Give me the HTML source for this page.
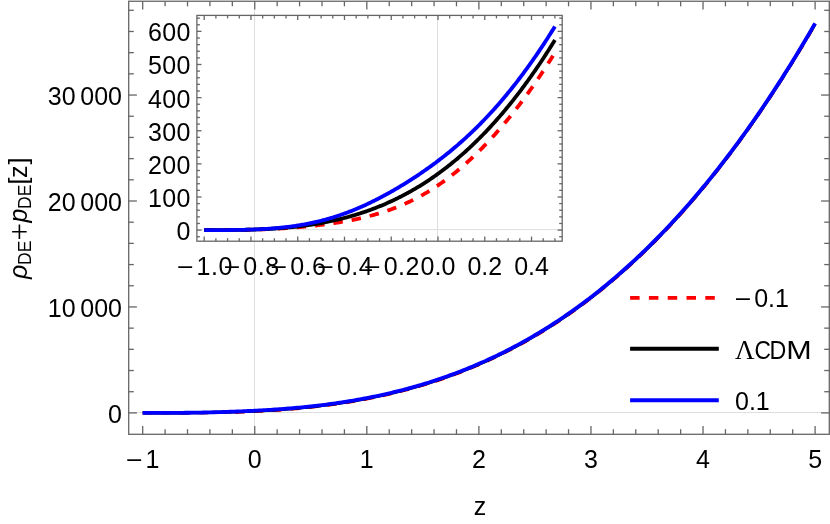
<!DOCTYPE html><html><head><meta charset="utf-8"><title>plot</title>
<style>html,body{margin:0;padding:0;background:#fff}svg{display:block;will-change:transform}text{font-family:"Liberation Sans",sans-serif;fill:#000}</style></head><body>
<svg width="830" height="524" viewBox="0 0 830 524">
<rect width="830" height="524" fill="#fff"/>
<g stroke="#dedede" stroke-width="1" fill="none">
<line x1="254.5" y1="1.25" x2="254.5" y2="434.30"/>
<line x1="128.70" y1="412.5" x2="829.30" y2="412.5"/>
<line x1="437.5" y1="15.40" x2="437.5" y2="241.20"/>
<line x1="196.90" y1="229.6" x2="562.20" y2="229.6"/>
</g>
<path d="M142.68,412.90 L144.92,412.90 L147.16,412.90 L149.40,412.90 L151.65,412.90 L153.89,412.90 L156.13,412.90 L158.37,412.90 L160.61,412.89 L162.85,412.89 L165.09,412.89 L167.34,412.88 L169.58,412.88 L171.82,412.87 L174.06,412.87 L176.30,412.86 L178.54,412.85 L180.78,412.84 L183.03,412.83 L185.27,412.82 L187.51,412.81 L189.75,412.80 L191.99,412.78 L194.23,412.77 L196.47,412.75 L198.72,412.73 L200.96,412.71 L203.20,412.69 L205.44,412.67 L207.68,412.65 L209.92,412.62 L212.16,412.59 L214.40,412.57 L216.65,412.53 L218.89,412.50 L221.13,412.46 L223.37,412.42 L225.61,412.38 L227.85,412.34 L230.09,412.29 L232.34,412.24 L234.58,412.18 L236.82,412.12 L239.06,412.05 L241.30,411.98 L243.54,411.91 L245.78,411.83 L248.03,411.75 L250.27,411.66 L252.51,411.57 L254.75,411.47 L256.99,411.36 L259.23,411.25 L261.47,411.14 L263.72,411.02 L265.96,410.89 L268.20,410.76 L270.44,410.63 L272.68,410.49 L274.92,410.34 L277.16,410.19 L279.41,410.03 L281.65,409.87 L283.89,409.70 L286.13,409.52 L288.37,409.35 L290.61,409.16 L292.85,408.97 L295.10,408.77 L297.34,408.57 L299.58,408.36 L301.82,408.15 L304.06,407.92 L306.30,407.70 L308.54,407.46 L310.78,407.22 L313.03,406.98 L315.27,406.72 L317.51,406.46 L319.75,406.20 L321.99,405.93 L324.23,405.64 L326.47,405.36 L328.72,405.06 L330.96,404.76 L333.20,404.45 L335.44,404.14 L337.68,403.81 L339.92,403.48 L342.16,403.14 L344.41,402.80 L346.65,402.44 L348.89,402.08 L351.13,401.71 L353.37,401.33 L355.61,400.95 L357.85,400.55 L360.10,400.15 L362.34,399.74 L364.58,399.32 L366.82,398.89 L369.06,398.46 L371.30,398.01 L373.54,397.56 L375.79,397.09 L378.03,396.62 L380.27,396.14 L382.51,395.65 L384.75,395.15 L386.99,394.64 L389.23,394.12 L391.48,393.60 L393.72,393.06 L395.96,392.51 L398.20,391.95 L400.44,391.39 L402.68,390.81 L404.92,390.22 L407.17,389.63 L409.41,389.02 L411.65,388.40 L413.89,387.78 L416.13,387.14 L418.37,386.49 L420.61,385.83 L422.86,385.16 L425.10,384.48 L427.34,383.79 L429.58,383.08 L431.82,382.37 L434.06,381.65 L436.30,380.91 L438.54,380.16 L440.79,379.40 L443.03,378.63 L445.27,377.85 L447.51,377.06 L449.75,376.25 L451.99,375.43 L454.23,374.60 L456.48,373.76 L458.72,372.91 L460.96,372.04 L463.20,371.17 L465.44,370.28 L467.68,369.37 L469.92,368.46 L472.17,367.53 L474.41,366.59 L476.65,365.64 L478.89,364.67 L481.13,363.69 L483.37,362.70 L485.61,361.69 L487.86,360.68 L490.10,359.64 L492.34,358.60 L494.58,357.54 L496.82,356.47 L499.06,355.38 L501.30,354.28 L503.55,353.17 L505.79,352.04 L508.03,350.90 L510.27,349.74 L512.51,348.57 L514.75,347.39 L516.99,346.19 L519.24,344.98 L521.48,343.75 L523.72,342.51 L525.96,341.25 L528.20,339.98 L530.44,338.70 L532.68,337.39 L534.92,336.08 L537.17,334.75 L539.41,333.40 L541.65,332.04 L543.89,330.66 L546.13,329.27 L548.37,327.86 L550.61,326.44 L552.86,325.00 L555.10,323.54 L557.34,322.07 L559.58,320.58 L561.82,319.08 L564.06,317.56 L566.30,316.02 L568.55,314.47 L570.79,312.90 L573.03,311.32 L575.27,309.71 L577.51,308.10 L579.75,306.46 L581.99,304.81 L584.24,303.14 L586.48,301.45 L588.72,299.75 L590.96,298.03 L593.20,296.29 L595.44,294.54 L597.68,292.76 L599.93,290.97 L602.17,289.17 L604.41,287.34 L606.65,285.50 L608.89,283.64 L611.13,281.76 L613.37,279.86 L615.62,277.94 L617.86,276.01 L620.10,274.06 L622.34,272.09 L624.58,270.10 L626.82,268.09 L629.06,266.06 L631.31,264.02 L633.55,261.96 L635.79,259.87 L638.03,257.77 L640.27,255.65 L642.51,253.51 L644.75,251.35 L647.00,249.17 L649.24,246.97 L651.48,244.76 L653.72,242.52 L655.96,240.26 L658.20,237.99 L660.44,235.69 L662.68,233.37 L664.93,231.04 L667.17,228.68 L669.41,226.30 L671.65,223.90 L673.89,221.49 L676.13,219.05 L678.37,216.59 L680.62,214.11 L682.86,211.61 L685.10,209.09 L687.34,206.55 L689.58,203.98 L691.82,201.40 L694.06,198.79 L696.31,196.17 L698.55,193.52 L700.79,190.85 L703.03,188.16 L705.27,185.45 L707.51,182.71 L709.75,179.96 L712.00,177.18 L714.24,174.38 L716.48,171.56 L718.72,168.71 L720.96,165.85 L723.20,162.96 L725.44,160.05 L727.69,157.11 L729.93,154.16 L732.17,151.18 L734.41,148.18 L736.65,145.15 L738.89,142.11 L741.13,139.04 L743.38,135.94 L745.62,132.83 L747.86,129.69 L750.10,126.52 L752.34,123.34 L754.58,120.13 L756.82,116.89 L759.06,113.64 L761.31,110.36 L763.55,107.05 L765.79,103.72 L768.03,100.37 L770.27,96.99 L772.51,93.59 L774.75,90.17 L777.00,86.72 L779.24,83.24 L781.48,79.74 L783.72,76.22 L785.96,72.67 L788.20,69.10 L790.44,65.50 L792.69,61.88 L794.93,58.23 L797.17,54.56 L799.41,50.86 L801.65,47.13 L803.89,43.38 L806.13,39.61 L808.38,35.81 L810.62,31.98 L812.86,28.13 L815.10,24.25" fill="none" stroke="#ff0000" stroke-width="3.2" stroke-dasharray="9.5 9"/>
<path d="M142.68,412.90 L144.92,412.90 L147.16,412.90 L149.40,412.90 L151.65,412.90 L153.89,412.90 L156.13,412.90 L158.37,412.90 L160.61,412.89 L162.85,412.89 L165.09,412.89 L167.34,412.88 L169.58,412.88 L171.82,412.87 L174.06,412.86 L176.30,412.85 L178.54,412.84 L180.78,412.83 L183.03,412.82 L185.27,412.80 L187.51,412.78 L189.75,412.77 L191.99,412.75 L194.23,412.72 L196.47,412.70 L198.72,412.67 L200.96,412.65 L203.20,412.62 L205.44,412.58 L207.68,412.55 L209.92,412.51 L212.16,412.47 L214.40,412.43 L216.65,412.38 L218.89,412.33 L221.13,412.28 L223.37,412.23 L225.61,412.17 L227.85,412.11 L230.09,412.05 L232.34,411.98 L234.58,411.91 L236.82,411.83 L239.06,411.75 L241.30,411.67 L243.54,411.59 L245.78,411.50 L248.03,411.40 L250.27,411.31 L252.51,411.20 L254.75,411.10 L256.99,410.99 L259.23,410.87 L261.47,410.75 L263.72,410.63 L265.96,410.50 L268.20,410.37 L270.44,410.23 L272.68,410.09 L274.92,409.94 L277.16,409.79 L279.41,409.63 L281.65,409.47 L283.89,409.30 L286.13,409.12 L288.37,408.94 L290.61,408.76 L292.85,408.57 L295.10,408.37 L297.34,408.17 L299.58,407.96 L301.82,407.74 L304.06,407.52 L306.30,407.29 L308.54,407.06 L310.78,406.82 L313.03,406.57 L315.27,406.32 L317.51,406.06 L319.75,405.80 L321.99,405.52 L324.23,405.24 L326.47,404.96 L328.72,404.66 L330.96,404.36 L333.20,404.05 L335.44,403.73 L337.68,403.41 L339.92,403.08 L342.16,402.74 L344.41,402.40 L346.65,402.04 L348.89,401.68 L351.13,401.31 L353.37,400.93 L355.61,400.55 L357.85,400.15 L360.10,399.75 L362.34,399.34 L364.58,398.92 L366.82,398.49 L369.06,398.05 L371.30,397.61 L373.54,397.15 L375.79,396.69 L378.03,396.22 L380.27,395.74 L382.51,395.25 L384.75,394.75 L386.99,394.24 L389.23,393.72 L391.48,393.19 L393.72,392.66 L395.96,392.11 L398.20,391.55 L400.44,390.99 L402.68,390.41 L404.92,389.82 L407.17,389.23 L409.41,388.62 L411.65,388.00 L413.89,387.37 L416.13,386.74 L418.37,386.09 L420.61,385.43 L422.86,384.76 L425.10,384.08 L427.34,383.38 L429.58,382.68 L431.82,381.97 L434.06,381.24 L436.30,380.51 L438.54,379.76 L440.79,379.00 L443.03,378.23 L445.27,377.45 L447.51,376.65 L449.75,375.85 L451.99,375.03 L454.23,374.20 L456.48,373.36 L458.72,372.51 L460.96,371.64 L463.20,370.76 L465.44,369.87 L467.68,368.97 L469.92,368.06 L472.17,367.13 L474.41,366.19 L476.65,365.24 L478.89,364.27 L481.13,363.29 L483.37,362.30 L485.61,361.29 L487.86,360.27 L490.10,359.24 L492.34,358.20 L494.58,357.14 L496.82,356.07 L499.06,354.98 L501.30,353.88 L503.55,352.77 L505.79,351.64 L508.03,350.50 L510.27,349.34 L512.51,348.17 L514.75,346.99 L516.99,345.79 L519.24,344.58 L521.48,343.35 L523.72,342.11 L525.96,340.85 L528.20,339.58 L530.44,338.29 L532.68,336.99 L534.92,335.68 L537.17,334.34 L539.41,333.00 L541.65,331.64 L543.89,330.26 L546.13,328.87 L548.37,327.46 L550.61,326.03 L552.86,324.59 L555.10,323.14 L557.34,321.67 L559.58,320.18 L561.82,318.68 L564.06,317.16 L566.30,315.62 L568.55,314.07 L570.79,312.50 L573.03,310.91 L575.27,309.31 L577.51,307.69 L579.75,306.06 L581.99,304.41 L584.24,302.74 L586.48,301.05 L588.72,299.35 L590.96,297.63 L593.20,295.89 L595.44,294.13 L597.68,292.36 L599.93,290.57 L602.17,288.76 L604.41,286.94 L606.65,285.09 L608.89,283.23 L611.13,281.35 L613.37,279.46 L615.62,277.54 L617.86,275.61 L620.10,273.66 L622.34,271.68 L624.58,269.70 L626.82,267.69 L629.06,265.66 L631.31,263.62 L633.55,261.55 L635.79,259.47 L638.03,257.37 L640.27,255.25 L642.51,253.11 L644.75,250.95 L647.00,248.77 L649.24,246.57 L651.48,244.35 L653.72,242.12 L655.96,239.86 L658.20,237.58 L660.44,235.29 L662.68,232.97 L664.93,230.63 L667.17,228.28 L669.41,225.90 L671.65,223.50 L673.89,221.08 L676.13,218.65 L678.37,216.19 L680.62,213.71 L682.86,211.21 L685.10,208.69 L687.34,206.14 L689.58,203.58 L691.82,201.00 L694.06,198.39 L696.31,195.76 L698.55,193.12 L700.79,190.45 L703.03,187.76 L705.27,185.04 L707.51,182.31 L709.75,179.55 L712.00,176.78 L714.24,173.98 L716.48,171.15 L718.72,168.31 L720.96,165.44 L723.20,162.55 L725.44,159.64 L727.69,156.71 L729.93,153.75 L732.17,150.78 L734.41,147.77 L736.65,144.75 L738.89,141.70 L741.13,138.63 L743.38,135.54 L745.62,132.42 L747.86,129.28 L750.10,126.12 L752.34,122.93 L754.58,119.72 L756.82,116.49 L759.06,113.23 L761.31,109.95 L763.55,106.65 L765.79,103.32 L768.03,99.97 L770.27,96.59 L772.51,93.19 L774.75,89.76 L777.00,86.31 L779.24,82.84 L781.48,79.34 L783.72,75.82 L785.96,72.27 L788.20,68.69 L790.44,65.10 L792.69,61.47 L794.93,57.83 L797.17,54.15 L799.41,50.45 L801.65,46.73 L803.89,42.98 L806.13,39.21 L808.38,35.41 L810.62,31.58 L812.86,27.73 L815.10,23.85" fill="none" stroke="#000" stroke-width="3.2"/>
<path d="M142.68,412.90 L144.92,412.90 L147.16,412.90 L149.40,412.90 L151.65,412.90 L153.89,412.90 L156.13,412.90 L158.37,412.89 L160.61,412.89 L162.85,412.89 L165.09,412.88 L167.34,412.88 L169.58,412.87 L171.82,412.86 L174.06,412.85 L176.30,412.84 L178.54,412.83 L180.78,412.81 L183.03,412.79 L185.27,412.77 L187.51,412.75 L189.75,412.73 L191.99,412.70 L194.23,412.67 L196.47,412.64 L198.72,412.60 L200.96,412.56 L203.20,412.52 L205.44,412.47 L207.68,412.42 L209.92,412.37 L212.16,412.32 L214.40,412.26 L216.65,412.19 L218.89,412.13 L221.13,412.06 L223.37,411.99 L225.61,411.91 L227.85,411.83 L230.09,411.75 L232.34,411.67 L234.58,411.58 L236.82,411.50 L239.06,411.40 L241.30,411.31 L243.54,411.21 L245.78,411.11 L248.03,411.01 L250.27,410.91 L252.51,410.80 L254.75,410.69 L256.99,410.57 L259.23,410.45 L261.47,410.33 L263.72,410.20 L265.96,410.07 L268.20,409.94 L270.44,409.80 L272.68,409.66 L274.92,409.51 L277.16,409.35 L279.41,409.20 L281.65,409.03 L283.89,408.86 L286.13,408.69 L288.37,408.51 L290.61,408.32 L292.85,408.13 L295.10,407.93 L297.34,407.73 L299.58,407.52 L301.82,407.31 L304.06,407.09 L306.30,406.86 L308.54,406.63 L310.78,406.39 L313.03,406.14 L315.27,405.89 L317.51,405.63 L319.75,405.36 L321.99,405.09 L324.23,404.81 L326.47,404.52 L328.72,404.23 L330.96,403.93 L333.20,403.62 L335.44,403.30 L337.68,402.98 L339.92,402.65 L342.16,402.31 L344.41,401.96 L346.65,401.61 L348.89,401.25 L351.13,400.88 L353.37,400.50 L355.61,400.11 L357.85,399.72 L360.10,399.31 L362.34,398.90 L364.58,398.48 L366.82,398.06 L369.06,397.62 L371.30,397.17 L373.54,396.72 L375.79,396.26 L378.03,395.79 L380.27,395.30 L382.51,394.81 L384.75,394.31 L386.99,393.81 L389.23,393.29 L391.48,392.76 L393.72,392.22 L395.96,391.67 L398.20,391.12 L400.44,390.55 L402.68,389.97 L404.92,389.39 L407.17,388.79 L409.41,388.18 L411.65,387.57 L413.89,386.94 L416.13,386.30 L418.37,385.65 L420.61,384.99 L422.86,384.32 L425.10,383.64 L427.34,382.95 L429.58,382.25 L431.82,381.53 L434.06,380.81 L436.30,380.07 L438.54,379.32 L440.79,378.57 L443.03,377.80 L445.27,377.01 L447.51,376.22 L449.75,375.41 L451.99,374.60 L454.23,373.77 L456.48,372.93 L458.72,372.07 L460.96,371.21 L463.20,370.33 L465.44,369.44 L467.68,368.54 L469.92,367.62 L472.17,366.69 L474.41,365.75 L476.65,364.80 L478.89,363.83 L481.13,362.86 L483.37,361.86 L485.61,360.86 L487.86,359.84 L490.10,358.81 L492.34,357.76 L494.58,356.70 L496.82,355.63 L499.06,354.55 L501.30,353.45 L503.55,352.33 L505.79,351.20 L508.03,350.06 L510.27,348.91 L512.51,347.74 L514.75,346.55 L516.99,345.36 L519.24,344.14 L521.48,342.92 L523.72,341.67 L525.96,340.42 L528.20,339.15 L530.44,337.86 L532.68,336.56 L534.92,335.24 L537.17,333.91 L539.41,332.56 L541.65,331.20 L543.89,329.82 L546.13,328.43 L548.37,327.02 L550.61,325.60 L552.86,324.16 L555.10,322.70 L557.34,321.23 L559.58,319.74 L561.82,318.24 L564.06,316.72 L566.30,315.19 L568.55,313.63 L570.79,312.06 L573.03,310.48 L575.27,308.88 L577.51,307.26 L579.75,305.62 L581.99,303.97 L584.24,302.30 L586.48,300.62 L588.72,298.91 L590.96,297.19 L593.20,295.45 L595.44,293.70 L597.68,291.93 L599.93,290.14 L602.17,288.33 L604.41,286.50 L606.65,284.66 L608.89,282.80 L611.13,280.92 L613.37,279.02 L615.62,277.11 L617.86,275.17 L620.10,273.22 L622.34,271.25 L624.58,269.26 L626.82,267.25 L629.06,265.23 L631.31,263.18 L633.55,261.12 L635.79,259.04 L638.03,256.93 L640.27,254.81 L642.51,252.67 L644.75,250.51 L647.00,248.34 L649.24,246.14 L651.48,243.92 L653.72,241.68 L655.96,239.43 L658.20,237.15 L660.44,234.85 L662.68,232.54 L664.93,230.20 L667.17,227.84 L669.41,225.46 L671.65,223.07 L673.89,220.65 L676.13,218.21 L678.37,215.75 L680.62,213.27 L682.86,210.77 L685.10,208.25 L687.34,205.71 L689.58,203.15 L691.82,200.56 L694.06,197.96 L696.31,195.33 L698.55,192.68 L700.79,190.01 L703.03,187.32 L705.27,184.61 L707.51,181.88 L709.75,179.12 L712.00,176.34 L714.24,173.54 L716.48,170.72 L718.72,167.88 L720.96,165.01 L723.20,162.12 L725.44,159.21 L727.69,156.28 L729.93,153.32 L732.17,150.34 L734.41,147.34 L736.65,144.32 L738.89,141.27 L741.13,138.20 L743.38,135.11 L745.62,131.99 L747.86,128.85 L750.10,125.69 L752.34,122.50 L754.58,119.29 L756.82,116.06 L759.06,112.80 L761.31,109.52 L763.55,106.21 L765.79,102.88 L768.03,99.53 L770.27,96.15 L772.51,92.75 L774.75,89.33 L777.00,85.88 L779.24,82.40 L781.48,78.91 L783.72,75.38 L785.96,71.83 L788.20,68.26 L790.44,64.66 L792.69,61.04 L794.93,57.39 L797.17,53.72 L799.41,50.02 L801.65,46.30 L803.89,42.55 L806.13,38.77 L808.38,34.97 L810.62,31.15 L812.86,27.29 L815.10,23.42" fill="none" stroke="#0000ff" stroke-width="3.8"/>
<path d="M204.20,230.10 L205.36,230.10 L206.53,230.10 L207.69,230.10 L208.85,230.10 L210.01,230.10 L211.18,230.10 L212.34,230.10 L213.50,230.10 L214.66,230.10 L215.83,230.09 L216.99,230.09 L218.15,230.09 L219.32,230.09 L220.48,230.08 L221.64,230.08 L222.80,230.07 L223.97,230.07 L225.13,230.06 L226.29,230.05 L227.46,230.05 L228.62,230.04 L229.78,230.03 L230.94,230.02 L232.11,230.01 L233.27,230.00 L234.43,229.99 L235.59,229.97 L236.76,229.96 L237.92,229.94 L239.08,229.93 L240.25,229.91 L241.41,229.89 L242.57,229.87 L243.73,229.85 L244.90,229.83 L246.06,229.81 L247.22,229.79 L248.39,229.76 L249.55,229.73 L250.71,229.71 L251.87,229.68 L253.04,229.65 L254.20,229.61 L255.36,229.58 L256.52,229.55 L257.69,229.51 L258.85,229.47 L260.01,229.44 L261.18,229.40 L262.34,229.35 L263.50,229.31 L264.66,229.27 L265.83,229.22 L266.99,229.17 L268.15,229.12 L269.31,229.07 L270.48,229.02 L271.64,228.96 L272.80,228.91 L273.97,228.85 L275.13,228.79 L276.29,228.73 L277.45,228.67 L278.62,228.60 L279.78,228.54 L280.94,228.47 L282.11,228.40 L283.27,228.33 L284.43,228.25 L285.59,228.18 L286.76,228.10 L287.92,228.02 L289.08,227.94 L290.24,227.86 L291.41,227.77 L292.57,227.68 L293.73,227.59 L294.90,227.50 L296.06,227.41 L297.22,227.32 L298.38,227.22 L299.55,227.12 L300.71,227.02 L301.87,226.91 L303.04,226.81 L304.20,226.70 L305.36,226.59 L306.52,226.48 L307.69,226.36 L308.85,226.25 L310.01,226.13 L311.17,226.01 L312.34,225.88 L313.50,225.76 L314.66,225.63 L315.83,225.50 L316.99,225.37 L318.15,225.23 L319.31,225.09 L320.48,224.95 L321.64,224.81 L322.80,224.66 L323.96,224.51 L325.13,224.36 L326.29,224.21 L327.45,224.05 L328.62,223.89 L329.78,223.73 L330.94,223.57 L332.10,223.40 L333.27,223.23 L334.43,223.05 L335.59,222.87 L336.76,222.69 L337.92,222.51 L339.08,222.32 L340.24,222.13 L341.41,221.94 L342.57,221.74 L343.73,221.54 L344.89,221.34 L346.06,221.13 L347.22,220.92 L348.38,220.70 L349.55,220.48 L350.71,220.26 L351.87,220.03 L353.03,219.80 L354.20,219.56 L355.36,219.32 L356.52,219.08 L357.69,218.83 L358.85,218.58 L360.01,218.32 L361.17,218.06 L362.34,217.79 L363.50,217.52 L364.66,217.24 L365.82,216.96 L366.99,216.67 L368.15,216.38 L369.31,216.08 L370.48,215.78 L371.64,215.47 L372.80,215.15 L373.96,214.83 L375.13,214.51 L376.29,214.17 L377.45,213.83 L378.61,213.49 L379.78,213.14 L380.94,212.78 L382.10,212.42 L383.27,212.05 L384.43,211.67 L385.59,211.29 L386.75,210.89 L387.92,210.50 L389.08,210.09 L390.24,209.68 L391.41,209.26 L392.57,208.83 L393.73,208.40 L394.89,207.95 L396.06,207.50 L397.22,207.05 L398.38,206.58 L399.54,206.11 L400.71,205.62 L401.87,205.13 L403.03,204.63 L404.20,204.13 L405.36,203.61 L406.52,203.08 L407.68,202.55 L408.85,202.01 L410.01,201.46 L411.17,200.90 L412.33,200.33 L413.50,199.75 L414.66,199.16 L415.82,198.57 L416.99,197.96 L418.15,197.34 L419.31,196.72 L420.47,196.09 L421.64,195.44 L422.80,194.79 L423.96,194.12 L425.13,193.45 L426.29,192.77 L427.45,192.08 L428.61,191.37 L429.78,190.66 L430.94,189.94 L432.10,189.21 L433.26,188.46 L434.43,187.71 L435.59,186.95 L436.75,186.18 L437.92,185.40 L439.08,184.60 L440.24,183.80 L441.40,182.99 L442.57,182.16 L443.73,181.33 L444.89,180.49 L446.06,179.63 L447.22,178.77 L448.38,177.89 L449.54,177.01 L450.71,176.11 L451.87,175.21 L453.03,174.29 L454.19,173.37 L455.36,172.43 L456.52,171.48 L457.68,170.53 L458.85,169.56 L460.01,168.58 L461.17,167.59 L462.33,166.60 L463.50,165.59 L464.66,164.57 L465.82,163.54 L466.98,162.50 L468.15,161.45 L469.31,160.39 L470.47,159.32 L471.64,158.24 L472.80,157.15 L473.96,156.05 L475.12,154.94 L476.29,153.81 L477.45,152.68 L478.61,151.54 L479.78,150.38 L480.94,149.22 L482.10,148.05 L483.26,146.86 L484.43,145.67 L485.59,144.46 L486.75,143.24 L487.91,142.02 L489.08,140.78 L490.24,139.53 L491.40,138.27 L492.57,137.00 L493.73,135.72 L494.89,134.43 L496.05,133.13 L497.22,131.82 L498.38,130.50 L499.54,129.17 L500.71,127.82 L501.87,126.47 L503.03,125.10 L504.19,123.73 L505.36,122.34 L506.52,120.94 L507.68,119.53 L508.84,118.11 L510.01,116.68 L511.17,115.24 L512.33,113.79 L513.50,112.32 L514.66,110.85 L515.82,109.36 L516.98,107.87 L518.15,106.36 L519.31,104.84 L520.47,103.31 L521.63,101.76 L522.80,100.21 L523.96,98.64 L525.12,97.07 L526.29,95.48 L527.45,93.88 L528.61,92.27 L529.77,90.65 L530.94,89.01 L532.10,87.36 L533.26,85.71 L534.43,84.04 L535.59,82.35 L536.75,80.66 L537.91,78.96 L539.08,77.24 L540.24,75.51 L541.40,73.77 L542.56,72.01 L543.73,70.25 L544.89,68.47 L546.05,66.68 L547.22,64.88 L548.38,63.06 L549.54,61.24 L550.70,59.40 L551.87,57.55 L553.03,55.68" fill="none" stroke="#ff0000" stroke-width="3.8" stroke-dasharray="9.5 9"/>
<path d="M204.20,230.10 L205.37,230.10 L206.54,230.10 L207.71,230.10 L208.88,230.10 L210.04,230.10 L211.21,230.10 L212.38,230.10 L213.55,230.10 L214.72,230.09 L215.89,230.09 L217.06,230.09 L218.23,230.09 L219.40,230.08 L220.57,230.08 L221.73,230.08 L222.90,230.07 L224.07,230.07 L225.24,230.06 L226.41,230.05 L227.58,230.04 L228.75,230.03 L229.92,230.03 L231.09,230.01 L232.26,230.00 L233.42,229.99 L234.59,229.98 L235.76,229.96 L236.93,229.95 L238.10,229.93 L239.27,229.91 L240.44,229.89 L241.61,229.87 L242.78,229.85 L243.95,229.82 L245.12,229.80 L246.28,229.77 L247.45,229.74 L248.62,229.71 L249.79,229.68 L250.96,229.65 L252.13,229.61 L253.30,229.58 L254.47,229.54 L255.64,229.50 L256.80,229.46 L257.97,229.41 L259.14,229.37 L260.31,229.32 L261.48,229.27 L262.65,229.22 L263.82,229.17 L264.99,229.11 L266.16,229.05 L267.33,228.99 L268.50,228.93 L269.66,228.86 L270.83,228.80 L272.00,228.73 L273.17,228.65 L274.34,228.58 L275.51,228.50 L276.68,228.42 L277.85,228.34 L279.02,228.26 L280.18,228.17 L281.35,228.08 L282.52,227.98 L283.69,227.89 L284.86,227.79 L286.03,227.69 L287.20,227.58 L288.37,227.47 L289.54,227.36 L290.71,227.25 L291.88,227.13 L293.04,227.01 L294.21,226.89 L295.38,226.76 L296.55,226.63 L297.72,226.50 L298.89,226.36 L300.06,226.22 L301.23,226.08 L302.40,225.93 L303.56,225.78 L304.73,225.62 L305.90,225.47 L307.07,225.30 L308.24,225.14 L309.41,224.97 L310.58,224.80 L311.75,224.62 L312.92,224.44 L314.09,224.25 L315.25,224.07 L316.42,223.87 L317.59,223.68 L318.76,223.48 L319.93,223.27 L321.10,223.06 L322.27,222.85 L323.44,222.63 L324.61,222.41 L325.78,222.18 L326.94,221.95 L328.11,221.72 L329.28,221.48 L330.45,221.23 L331.62,220.99 L332.79,220.73 L333.96,220.47 L335.13,220.21 L336.30,219.94 L337.47,219.67 L338.63,219.40 L339.80,219.11 L340.97,218.83 L342.14,218.54 L343.31,218.24 L344.48,217.94 L345.65,217.63 L346.82,217.32 L347.99,217.00 L349.16,216.68 L350.32,216.35 L351.49,216.02 L352.66,215.68 L353.83,215.34 L355.00,214.99 L356.17,214.64 L357.34,214.28 L358.51,213.91 L359.68,213.54 L360.85,213.17 L362.01,212.78 L363.18,212.40 L364.35,212.00 L365.52,211.60 L366.69,211.20 L367.86,210.79 L369.03,210.37 L370.20,209.95 L371.37,209.52 L372.54,209.08 L373.70,208.64 L374.87,208.20 L376.04,207.74 L377.21,207.28 L378.38,206.82 L379.55,206.35 L380.72,205.87 L381.89,205.38 L383.06,204.89 L384.23,204.40 L385.39,203.89 L386.56,203.38 L387.73,202.86 L388.90,202.34 L390.07,201.81 L391.24,201.27 L392.41,200.73 L393.58,200.18 L394.75,199.62 L395.92,199.06 L397.08,198.48 L398.25,197.91 L399.42,197.32 L400.59,196.73 L401.76,196.13 L402.93,195.52 L404.10,194.91 L405.27,194.29 L406.44,193.66 L407.61,193.02 L408.77,192.38 L409.94,191.73 L411.11,191.07 L412.28,190.41 L413.45,189.73 L414.62,189.05 L415.79,188.37 L416.96,187.67 L418.13,186.97 L419.30,186.26 L420.47,185.54 L421.63,184.81 L422.80,184.08 L423.97,183.33 L425.14,182.58 L426.31,181.83 L427.48,181.06 L428.65,180.29 L429.82,179.50 L430.99,178.71 L432.15,177.91 L433.32,177.11 L434.49,176.29 L435.66,175.47 L436.83,174.64 L438.00,173.80 L439.17,172.95 L440.34,172.09 L441.51,171.22 L442.68,170.35 L443.84,169.47 L445.01,168.58 L446.18,167.67 L447.35,166.77 L448.52,165.85 L449.69,164.92 L450.86,163.99 L452.03,163.04 L453.20,162.09 L454.37,161.13 L455.53,160.15 L456.70,159.17 L457.87,158.18 L459.04,157.18 L460.21,156.18 L461.38,155.16 L462.55,154.13 L463.72,153.10 L464.89,152.05 L466.06,151.00 L467.23,149.93 L468.39,148.86 L469.56,147.78 L470.73,146.68 L471.90,145.58 L473.07,144.47 L474.24,143.35 L475.41,142.22 L476.58,141.07 L477.75,139.92 L478.92,138.76 L480.08,137.59 L481.25,136.41 L482.42,135.22 L483.59,134.02 L484.76,132.81 L485.93,131.59 L487.10,130.35 L488.27,129.11 L489.44,127.86 L490.61,126.60 L491.77,125.33 L492.94,124.04 L494.11,122.75 L495.28,121.45 L496.45,120.13 L497.62,118.81 L498.79,117.47 L499.96,116.12 L501.13,114.77 L502.29,113.40 L503.46,112.02 L504.63,110.63 L505.80,109.23 L506.97,107.82 L508.14,106.40 L509.31,104.97 L510.48,103.52 L511.65,102.07 L512.82,100.60 L513.99,99.13 L515.15,97.64 L516.32,96.14 L517.49,94.63 L518.66,93.10 L519.83,91.57 L521.00,90.03 L522.17,88.47 L523.34,86.90 L524.51,85.32 L525.67,83.73 L526.84,82.13 L528.01,80.51 L529.18,78.89 L530.35,77.25 L531.52,75.60 L532.69,73.94 L533.86,72.27 L535.03,70.58 L536.20,68.89 L537.37,67.18 L538.53,65.46 L539.70,63.72 L540.87,61.98 L542.04,60.22 L543.21,58.45 L544.38,56.67 L545.55,54.87 L546.72,53.07 L547.89,51.25 L549.06,49.42 L550.22,47.57 L551.39,45.72 L552.56,43.85 L553.73,41.97 L554.90,40.07" fill="none" stroke="#000" stroke-width="3.8"/>
<path d="M204.20,230.10 L205.37,230.10 L206.54,230.10 L207.71,230.10 L208.88,230.10 L210.04,230.10 L211.21,230.10 L212.38,230.10 L213.55,230.10 L214.72,230.09 L215.89,230.09 L217.06,230.09 L218.23,230.09 L219.40,230.08 L220.57,230.08 L221.73,230.07 L222.90,230.07 L224.07,230.06 L225.24,230.06 L226.41,230.05 L227.58,230.04 L228.75,230.03 L229.92,230.02 L231.09,230.01 L232.26,229.99 L233.42,229.98 L234.59,229.96 L235.76,229.95 L236.93,229.93 L238.10,229.91 L239.27,229.89 L240.44,229.87 L241.61,229.84 L242.78,229.82 L243.95,229.79 L245.12,229.76 L246.28,229.73 L247.45,229.70 L248.62,229.66 L249.79,229.62 L250.96,229.58 L252.13,229.54 L253.30,229.50 L254.47,229.45 L255.64,229.41 L256.80,229.35 L257.97,229.30 L259.14,229.25 L260.31,229.19 L261.48,229.13 L262.65,229.06 L263.82,229.00 L264.99,228.93 L266.16,228.85 L267.33,228.78 L268.50,228.70 L269.66,228.62 L270.83,228.53 L272.00,228.44 L273.17,228.35 L274.34,228.25 L275.51,228.15 L276.68,228.05 L277.85,227.94 L279.02,227.83 L280.18,227.72 L281.35,227.60 L282.52,227.48 L283.69,227.35 L284.86,227.22 L286.03,227.09 L287.20,226.95 L288.37,226.81 L289.54,226.66 L290.71,226.51 L291.88,226.35 L293.04,226.19 L294.21,226.02 L295.38,225.85 L296.55,225.67 L297.72,225.49 L298.89,225.31 L300.06,225.12 L301.23,224.92 L302.40,224.72 L303.56,224.51 L304.73,224.30 L305.90,224.08 L307.07,223.86 L308.24,223.63 L309.41,223.40 L310.58,223.16 L311.75,222.91 L312.92,222.66 L314.09,222.41 L315.25,222.14 L316.42,221.87 L317.59,221.60 L318.76,221.32 L319.93,221.03 L321.10,220.74 L322.27,220.44 L323.44,220.14 L324.61,219.83 L325.78,219.51 L326.94,219.19 L328.11,218.86 L329.28,218.52 L330.45,218.18 L331.62,217.83 L332.79,217.47 L333.96,217.11 L335.13,216.74 L336.30,216.37 L337.47,215.99 L338.63,215.60 L339.80,215.21 L340.97,214.80 L342.14,214.40 L343.31,213.98 L344.48,213.56 L345.65,213.14 L346.82,212.70 L347.99,212.26 L349.16,211.82 L350.32,211.37 L351.49,210.91 L352.66,210.44 L353.83,209.97 L355.00,209.49 L356.17,209.01 L357.34,208.52 L358.51,208.02 L359.68,207.52 L360.85,207.01 L362.01,206.49 L363.18,205.97 L364.35,205.44 L365.52,204.90 L366.69,204.36 L367.86,203.82 L369.03,203.26 L370.20,202.70 L371.37,202.14 L372.54,201.57 L373.70,200.99 L374.87,200.41 L376.04,199.82 L377.21,199.23 L378.38,198.63 L379.55,198.02 L380.72,197.41 L381.89,196.80 L383.06,196.17 L384.23,195.55 L385.39,194.91 L386.56,194.27 L387.73,193.63 L388.90,192.98 L390.07,192.33 L391.24,191.67 L392.41,191.00 L393.58,190.33 L394.75,189.66 L395.92,188.97 L397.08,188.29 L398.25,187.60 L399.42,186.90 L400.59,186.20 L401.76,185.49 L402.93,184.78 L404.10,184.06 L405.27,183.34 L406.44,182.61 L407.61,181.88 L408.77,181.14 L409.94,180.40 L411.11,179.65 L412.28,178.90 L413.45,178.14 L414.62,177.37 L415.79,176.60 L416.96,175.83 L418.13,175.05 L419.30,174.26 L420.47,173.47 L421.63,172.67 L422.80,171.87 L423.97,171.06 L425.14,170.25 L426.31,169.43 L427.48,168.60 L428.65,167.77 L429.82,166.93 L430.99,166.09 L432.15,165.24 L433.32,164.38 L434.49,163.52 L435.66,162.65 L436.83,161.77 L438.00,160.89 L439.17,160.00 L440.34,159.11 L441.51,158.21 L442.68,157.30 L443.84,156.38 L445.01,155.46 L446.18,154.53 L447.35,153.59 L448.52,152.65 L449.69,151.70 L450.86,150.74 L452.03,149.77 L453.20,148.79 L454.37,147.81 L455.53,146.82 L456.70,145.82 L457.87,144.82 L459.04,143.80 L460.21,142.78 L461.38,141.75 L462.55,140.71 L463.72,139.66 L464.89,138.60 L466.06,137.54 L467.23,136.46 L468.39,135.38 L469.56,134.29 L470.73,133.19 L471.90,132.08 L473.07,130.96 L474.24,129.83 L475.41,128.70 L476.58,127.55 L477.75,126.39 L478.92,125.23 L480.08,124.05 L481.25,122.87 L482.42,121.67 L483.59,120.47 L484.76,119.25 L485.93,118.03 L487.10,116.80 L488.27,115.55 L489.44,114.30 L490.61,113.03 L491.77,111.76 L492.94,110.48 L494.11,109.18 L495.28,107.88 L496.45,106.56 L497.62,105.24 L498.79,103.90 L499.96,102.55 L501.13,101.19 L502.29,99.83 L503.46,98.45 L504.63,97.06 L505.80,95.66 L506.97,94.25 L508.14,92.82 L509.31,91.39 L510.48,89.95 L511.65,88.49 L512.82,87.02 L513.99,85.55 L515.15,84.06 L516.32,82.56 L517.49,81.05 L518.66,79.53 L519.83,77.99 L521.00,76.45 L522.17,74.89 L523.34,73.32 L524.51,71.74 L525.67,70.15 L526.84,68.55 L528.01,66.94 L529.18,65.31 L530.35,63.67 L531.52,62.02 L532.69,60.36 L533.86,58.69 L535.03,57.00 L536.20,55.31 L537.37,53.60 L538.53,51.88 L539.70,50.14 L540.87,48.40 L542.04,46.64 L543.21,44.87 L544.38,43.09 L545.55,41.30 L546.72,39.49 L547.89,37.67 L549.06,35.84 L550.22,33.99 L551.39,32.14 L552.56,30.27 L553.73,28.39 L554.90,26.49" fill="none" stroke="#0000ff" stroke-width="3.8"/>
<g stroke="#666666" stroke-width="1.3" fill="none">
<rect x="128.70" y="1.25" width="700.60" height="433.05"/>
<line x1="142.68" y1="434.30" x2="142.68" y2="426.10"/>
<line x1="142.68" y1="1.25" x2="142.68" y2="9.45"/>
<line x1="165.09" y1="434.30" x2="165.09" y2="429.20"/>
<line x1="165.09" y1="1.25" x2="165.09" y2="6.35"/>
<line x1="187.51" y1="434.30" x2="187.51" y2="429.20"/>
<line x1="187.51" y1="1.25" x2="187.51" y2="6.35"/>
<line x1="209.92" y1="434.30" x2="209.92" y2="429.20"/>
<line x1="209.92" y1="1.25" x2="209.92" y2="6.35"/>
<line x1="232.34" y1="434.30" x2="232.34" y2="429.20"/>
<line x1="232.34" y1="1.25" x2="232.34" y2="6.35"/>
<line x1="254.75" y1="434.30" x2="254.75" y2="426.10"/>
<line x1="254.75" y1="1.25" x2="254.75" y2="9.45"/>
<line x1="277.16" y1="434.30" x2="277.16" y2="429.20"/>
<line x1="277.16" y1="1.25" x2="277.16" y2="6.35"/>
<line x1="299.58" y1="434.30" x2="299.58" y2="429.20"/>
<line x1="299.58" y1="1.25" x2="299.58" y2="6.35"/>
<line x1="321.99" y1="434.30" x2="321.99" y2="429.20"/>
<line x1="321.99" y1="1.25" x2="321.99" y2="6.35"/>
<line x1="344.41" y1="434.30" x2="344.41" y2="429.20"/>
<line x1="344.41" y1="1.25" x2="344.41" y2="6.35"/>
<line x1="366.82" y1="434.30" x2="366.82" y2="426.10"/>
<line x1="366.82" y1="1.25" x2="366.82" y2="9.45"/>
<line x1="389.23" y1="434.30" x2="389.23" y2="429.20"/>
<line x1="389.23" y1="1.25" x2="389.23" y2="6.35"/>
<line x1="411.65" y1="434.30" x2="411.65" y2="429.20"/>
<line x1="411.65" y1="1.25" x2="411.65" y2="6.35"/>
<line x1="434.06" y1="434.30" x2="434.06" y2="429.20"/>
<line x1="434.06" y1="1.25" x2="434.06" y2="6.35"/>
<line x1="456.48" y1="434.30" x2="456.48" y2="429.20"/>
<line x1="456.48" y1="1.25" x2="456.48" y2="6.35"/>
<line x1="478.89" y1="434.30" x2="478.89" y2="426.10"/>
<line x1="478.89" y1="1.25" x2="478.89" y2="9.45"/>
<line x1="501.30" y1="434.30" x2="501.30" y2="429.20"/>
<line x1="501.30" y1="1.25" x2="501.30" y2="6.35"/>
<line x1="523.72" y1="434.30" x2="523.72" y2="429.20"/>
<line x1="523.72" y1="1.25" x2="523.72" y2="6.35"/>
<line x1="546.13" y1="434.30" x2="546.13" y2="429.20"/>
<line x1="546.13" y1="1.25" x2="546.13" y2="6.35"/>
<line x1="568.55" y1="434.30" x2="568.55" y2="429.20"/>
<line x1="568.55" y1="1.25" x2="568.55" y2="6.35"/>
<line x1="590.96" y1="434.30" x2="590.96" y2="426.10"/>
<line x1="590.96" y1="1.25" x2="590.96" y2="9.45"/>
<line x1="613.37" y1="434.30" x2="613.37" y2="429.20"/>
<line x1="613.37" y1="1.25" x2="613.37" y2="6.35"/>
<line x1="635.79" y1="434.30" x2="635.79" y2="429.20"/>
<line x1="635.79" y1="1.25" x2="635.79" y2="6.35"/>
<line x1="658.20" y1="434.30" x2="658.20" y2="429.20"/>
<line x1="658.20" y1="1.25" x2="658.20" y2="6.35"/>
<line x1="680.62" y1="434.30" x2="680.62" y2="429.20"/>
<line x1="680.62" y1="1.25" x2="680.62" y2="6.35"/>
<line x1="703.03" y1="434.30" x2="703.03" y2="426.10"/>
<line x1="703.03" y1="1.25" x2="703.03" y2="9.45"/>
<line x1="725.44" y1="434.30" x2="725.44" y2="429.20"/>
<line x1="725.44" y1="1.25" x2="725.44" y2="6.35"/>
<line x1="747.86" y1="434.30" x2="747.86" y2="429.20"/>
<line x1="747.86" y1="1.25" x2="747.86" y2="6.35"/>
<line x1="770.27" y1="434.30" x2="770.27" y2="429.20"/>
<line x1="770.27" y1="1.25" x2="770.27" y2="6.35"/>
<line x1="792.69" y1="434.30" x2="792.69" y2="429.20"/>
<line x1="792.69" y1="1.25" x2="792.69" y2="6.35"/>
<line x1="815.10" y1="434.30" x2="815.10" y2="426.10"/>
<line x1="815.10" y1="1.25" x2="815.10" y2="9.45"/>
<line x1="128.70" y1="412.90" x2="136.90" y2="412.90"/>
<line x1="829.30" y1="412.90" x2="821.10" y2="412.90"/>
<line x1="128.70" y1="391.71" x2="133.80" y2="391.71"/>
<line x1="829.30" y1="391.71" x2="824.20" y2="391.71"/>
<line x1="128.70" y1="370.52" x2="133.80" y2="370.52"/>
<line x1="829.30" y1="370.52" x2="824.20" y2="370.52"/>
<line x1="128.70" y1="349.33" x2="133.80" y2="349.33"/>
<line x1="829.30" y1="349.33" x2="824.20" y2="349.33"/>
<line x1="128.70" y1="328.14" x2="133.80" y2="328.14"/>
<line x1="829.30" y1="328.14" x2="824.20" y2="328.14"/>
<line x1="128.70" y1="306.95" x2="136.90" y2="306.95"/>
<line x1="829.30" y1="306.95" x2="821.10" y2="306.95"/>
<line x1="128.70" y1="285.76" x2="133.80" y2="285.76"/>
<line x1="829.30" y1="285.76" x2="824.20" y2="285.76"/>
<line x1="128.70" y1="264.57" x2="133.80" y2="264.57"/>
<line x1="829.30" y1="264.57" x2="824.20" y2="264.57"/>
<line x1="128.70" y1="243.38" x2="133.80" y2="243.38"/>
<line x1="829.30" y1="243.38" x2="824.20" y2="243.38"/>
<line x1="128.70" y1="222.19" x2="133.80" y2="222.19"/>
<line x1="829.30" y1="222.19" x2="824.20" y2="222.19"/>
<line x1="128.70" y1="201.00" x2="136.90" y2="201.00"/>
<line x1="829.30" y1="201.00" x2="821.10" y2="201.00"/>
<line x1="128.70" y1="179.81" x2="133.80" y2="179.81"/>
<line x1="829.30" y1="179.81" x2="824.20" y2="179.81"/>
<line x1="128.70" y1="158.62" x2="133.80" y2="158.62"/>
<line x1="829.30" y1="158.62" x2="824.20" y2="158.62"/>
<line x1="128.70" y1="137.43" x2="133.80" y2="137.43"/>
<line x1="829.30" y1="137.43" x2="824.20" y2="137.43"/>
<line x1="128.70" y1="116.24" x2="133.80" y2="116.24"/>
<line x1="829.30" y1="116.24" x2="824.20" y2="116.24"/>
<line x1="128.70" y1="95.05" x2="136.90" y2="95.05"/>
<line x1="829.30" y1="95.05" x2="821.10" y2="95.05"/>
<line x1="128.70" y1="73.86" x2="133.80" y2="73.86"/>
<line x1="829.30" y1="73.86" x2="824.20" y2="73.86"/>
<line x1="128.70" y1="52.67" x2="133.80" y2="52.67"/>
<line x1="829.30" y1="52.67" x2="824.20" y2="52.67"/>
<line x1="128.70" y1="31.48" x2="133.80" y2="31.48"/>
<line x1="829.30" y1="31.48" x2="824.20" y2="31.48"/>
<line x1="128.70" y1="10.29" x2="133.80" y2="10.29"/>
<line x1="829.30" y1="10.29" x2="824.20" y2="10.29"/>
</g>
<g stroke="#666666" stroke-width="1.3" fill="none">
<rect x="196.90" y="15.40" width="365.30" height="225.80"/>
<line x1="204.20" y1="241.20" x2="204.20" y2="236.60"/>
<line x1="204.20" y1="15.40" x2="204.20" y2="20.00"/>
<line x1="215.89" y1="241.20" x2="215.89" y2="238.20"/>
<line x1="215.89" y1="15.40" x2="215.89" y2="18.40"/>
<line x1="227.58" y1="241.20" x2="227.58" y2="238.20"/>
<line x1="227.58" y1="15.40" x2="227.58" y2="18.40"/>
<line x1="239.27" y1="241.20" x2="239.27" y2="238.20"/>
<line x1="239.27" y1="15.40" x2="239.27" y2="18.40"/>
<line x1="250.96" y1="241.20" x2="250.96" y2="236.60"/>
<line x1="250.96" y1="15.40" x2="250.96" y2="20.00"/>
<line x1="262.65" y1="241.20" x2="262.65" y2="238.20"/>
<line x1="262.65" y1="15.40" x2="262.65" y2="18.40"/>
<line x1="274.34" y1="241.20" x2="274.34" y2="238.20"/>
<line x1="274.34" y1="15.40" x2="274.34" y2="18.40"/>
<line x1="286.03" y1="241.20" x2="286.03" y2="238.20"/>
<line x1="286.03" y1="15.40" x2="286.03" y2="18.40"/>
<line x1="297.72" y1="241.20" x2="297.72" y2="236.60"/>
<line x1="297.72" y1="15.40" x2="297.72" y2="20.00"/>
<line x1="309.41" y1="241.20" x2="309.41" y2="238.20"/>
<line x1="309.41" y1="15.40" x2="309.41" y2="18.40"/>
<line x1="321.10" y1="241.20" x2="321.10" y2="238.20"/>
<line x1="321.10" y1="15.40" x2="321.10" y2="18.40"/>
<line x1="332.79" y1="241.20" x2="332.79" y2="238.20"/>
<line x1="332.79" y1="15.40" x2="332.79" y2="18.40"/>
<line x1="344.48" y1="241.20" x2="344.48" y2="236.60"/>
<line x1="344.48" y1="15.40" x2="344.48" y2="20.00"/>
<line x1="356.17" y1="241.20" x2="356.17" y2="238.20"/>
<line x1="356.17" y1="15.40" x2="356.17" y2="18.40"/>
<line x1="367.86" y1="241.20" x2="367.86" y2="238.20"/>
<line x1="367.86" y1="15.40" x2="367.86" y2="18.40"/>
<line x1="379.55" y1="241.20" x2="379.55" y2="238.20"/>
<line x1="379.55" y1="15.40" x2="379.55" y2="18.40"/>
<line x1="391.24" y1="241.20" x2="391.24" y2="236.60"/>
<line x1="391.24" y1="15.40" x2="391.24" y2="20.00"/>
<line x1="402.93" y1="241.20" x2="402.93" y2="238.20"/>
<line x1="402.93" y1="15.40" x2="402.93" y2="18.40"/>
<line x1="414.62" y1="241.20" x2="414.62" y2="238.20"/>
<line x1="414.62" y1="15.40" x2="414.62" y2="18.40"/>
<line x1="426.31" y1="241.20" x2="426.31" y2="238.20"/>
<line x1="426.31" y1="15.40" x2="426.31" y2="18.40"/>
<line x1="438.00" y1="241.20" x2="438.00" y2="236.60"/>
<line x1="438.00" y1="15.40" x2="438.00" y2="20.00"/>
<line x1="449.69" y1="241.20" x2="449.69" y2="238.20"/>
<line x1="449.69" y1="15.40" x2="449.69" y2="18.40"/>
<line x1="461.38" y1="241.20" x2="461.38" y2="238.20"/>
<line x1="461.38" y1="15.40" x2="461.38" y2="18.40"/>
<line x1="473.07" y1="241.20" x2="473.07" y2="238.20"/>
<line x1="473.07" y1="15.40" x2="473.07" y2="18.40"/>
<line x1="484.76" y1="241.20" x2="484.76" y2="236.60"/>
<line x1="484.76" y1="15.40" x2="484.76" y2="20.00"/>
<line x1="496.45" y1="241.20" x2="496.45" y2="238.20"/>
<line x1="496.45" y1="15.40" x2="496.45" y2="18.40"/>
<line x1="508.14" y1="241.20" x2="508.14" y2="238.20"/>
<line x1="508.14" y1="15.40" x2="508.14" y2="18.40"/>
<line x1="519.83" y1="241.20" x2="519.83" y2="238.20"/>
<line x1="519.83" y1="15.40" x2="519.83" y2="18.40"/>
<line x1="531.52" y1="241.20" x2="531.52" y2="236.60"/>
<line x1="531.52" y1="15.40" x2="531.52" y2="20.00"/>
<line x1="543.21" y1="241.20" x2="543.21" y2="238.20"/>
<line x1="543.21" y1="15.40" x2="543.21" y2="18.40"/>
<line x1="554.90" y1="241.20" x2="554.90" y2="238.20"/>
<line x1="554.90" y1="15.40" x2="554.90" y2="18.40"/>
<line x1="196.90" y1="236.72" x2="199.90" y2="236.72"/>
<line x1="562.20" y1="236.72" x2="559.20" y2="236.72"/>
<line x1="196.90" y1="230.10" x2="201.50" y2="230.10"/>
<line x1="562.20" y1="230.10" x2="557.60" y2="230.10"/>
<line x1="196.90" y1="223.48" x2="199.90" y2="223.48"/>
<line x1="562.20" y1="223.48" x2="559.20" y2="223.48"/>
<line x1="196.90" y1="216.85" x2="199.90" y2="216.85"/>
<line x1="562.20" y1="216.85" x2="559.20" y2="216.85"/>
<line x1="196.90" y1="210.23" x2="199.90" y2="210.23"/>
<line x1="562.20" y1="210.23" x2="559.20" y2="210.23"/>
<line x1="196.90" y1="203.60" x2="199.90" y2="203.60"/>
<line x1="562.20" y1="203.60" x2="559.20" y2="203.60"/>
<line x1="196.90" y1="196.98" x2="201.50" y2="196.98"/>
<line x1="562.20" y1="196.98" x2="557.60" y2="196.98"/>
<line x1="196.90" y1="190.36" x2="199.90" y2="190.36"/>
<line x1="562.20" y1="190.36" x2="559.20" y2="190.36"/>
<line x1="196.90" y1="183.73" x2="199.90" y2="183.73"/>
<line x1="562.20" y1="183.73" x2="559.20" y2="183.73"/>
<line x1="196.90" y1="177.11" x2="199.90" y2="177.11"/>
<line x1="562.20" y1="177.11" x2="559.20" y2="177.11"/>
<line x1="196.90" y1="170.48" x2="199.90" y2="170.48"/>
<line x1="562.20" y1="170.48" x2="559.20" y2="170.48"/>
<line x1="196.90" y1="163.86" x2="201.50" y2="163.86"/>
<line x1="562.20" y1="163.86" x2="557.60" y2="163.86"/>
<line x1="196.90" y1="157.24" x2="199.90" y2="157.24"/>
<line x1="562.20" y1="157.24" x2="559.20" y2="157.24"/>
<line x1="196.90" y1="150.61" x2="199.90" y2="150.61"/>
<line x1="562.20" y1="150.61" x2="559.20" y2="150.61"/>
<line x1="196.90" y1="143.99" x2="199.90" y2="143.99"/>
<line x1="562.20" y1="143.99" x2="559.20" y2="143.99"/>
<line x1="196.90" y1="137.36" x2="199.90" y2="137.36"/>
<line x1="562.20" y1="137.36" x2="559.20" y2="137.36"/>
<line x1="196.90" y1="130.74" x2="201.50" y2="130.74"/>
<line x1="562.20" y1="130.74" x2="557.60" y2="130.74"/>
<line x1="196.90" y1="124.12" x2="199.90" y2="124.12"/>
<line x1="562.20" y1="124.12" x2="559.20" y2="124.12"/>
<line x1="196.90" y1="117.49" x2="199.90" y2="117.49"/>
<line x1="562.20" y1="117.49" x2="559.20" y2="117.49"/>
<line x1="196.90" y1="110.87" x2="199.90" y2="110.87"/>
<line x1="562.20" y1="110.87" x2="559.20" y2="110.87"/>
<line x1="196.90" y1="104.24" x2="199.90" y2="104.24"/>
<line x1="562.20" y1="104.24" x2="559.20" y2="104.24"/>
<line x1="196.90" y1="97.62" x2="201.50" y2="97.62"/>
<line x1="562.20" y1="97.62" x2="557.60" y2="97.62"/>
<line x1="196.90" y1="91.00" x2="199.90" y2="91.00"/>
<line x1="562.20" y1="91.00" x2="559.20" y2="91.00"/>
<line x1="196.90" y1="84.37" x2="199.90" y2="84.37"/>
<line x1="562.20" y1="84.37" x2="559.20" y2="84.37"/>
<line x1="196.90" y1="77.75" x2="199.90" y2="77.75"/>
<line x1="562.20" y1="77.75" x2="559.20" y2="77.75"/>
<line x1="196.90" y1="71.12" x2="199.90" y2="71.12"/>
<line x1="562.20" y1="71.12" x2="559.20" y2="71.12"/>
<line x1="196.90" y1="64.50" x2="201.50" y2="64.50"/>
<line x1="562.20" y1="64.50" x2="557.60" y2="64.50"/>
<line x1="196.90" y1="57.88" x2="199.90" y2="57.88"/>
<line x1="562.20" y1="57.88" x2="559.20" y2="57.88"/>
<line x1="196.90" y1="51.25" x2="199.90" y2="51.25"/>
<line x1="562.20" y1="51.25" x2="559.20" y2="51.25"/>
<line x1="196.90" y1="44.63" x2="199.90" y2="44.63"/>
<line x1="562.20" y1="44.63" x2="559.20" y2="44.63"/>
<line x1="196.90" y1="38.00" x2="199.90" y2="38.00"/>
<line x1="562.20" y1="38.00" x2="559.20" y2="38.00"/>
<line x1="196.90" y1="31.38" x2="201.50" y2="31.38"/>
<line x1="562.20" y1="31.38" x2="557.60" y2="31.38"/>
<line x1="196.90" y1="24.76" x2="199.90" y2="24.76"/>
<line x1="562.20" y1="24.76" x2="559.20" y2="24.76"/>
<line x1="196.90" y1="18.13" x2="199.90" y2="18.13"/>
<line x1="562.20" y1="18.13" x2="559.20" y2="18.13"/>
</g>
<g font-size="25">
<text id="mx0" x="127.3" y="467.9"><tspan dy="-0.5">–</tspan><tspan dx="4.4" dy="0.5">1</tspan></text>
<text id="mx1" x="254.75" y="467.9" text-anchor="middle">0</text>
<text id="mx2" x="366.82" y="467.9" text-anchor="middle">1</text>
<text id="mx3" x="478.89" y="467.9" text-anchor="middle">2</text>
<text id="mx4" x="590.96" y="467.9" text-anchor="middle">3</text>
<text id="mx5" x="703.03" y="467.9" text-anchor="middle">4</text>
<text id="mx6" x="815.10" y="467.9" text-anchor="middle">5</text>
<text id="my0" x="122.0" y="422.60" text-anchor="end">0</text>
<text id="my1" x="122.0" y="316.65" text-anchor="end">10<tspan dx="4.7">000</tspan></text>
<text id="my2" x="122.0" y="210.70" text-anchor="end">20<tspan dx="4.7">000</tspan></text>
<text id="my3" x="122.0" y="104.75" text-anchor="end">30<tspan dx="4.7">000</tspan></text>
<text id="ix0" x="178.30" y="274.8" letter-spacing="0.5"><tspan dy="-0.5">–</tspan><tspan dx="3.9" dy="0.5">1.0</tspan></text>
<text id="ix1" x="225.06" y="274.8" letter-spacing="0.5"><tspan dy="-0.5">–</tspan><tspan dx="3.9" dy="0.5">0.8</tspan></text>
<text id="ix2" x="271.82" y="274.8" letter-spacing="0.5"><tspan dy="-0.5">–</tspan><tspan dx="3.9" dy="0.5">0.6</tspan></text>
<text id="ix3" x="318.58" y="274.8" letter-spacing="0.5"><tspan dy="-0.5">–</tspan><tspan dx="3.9" dy="0.5">0.4</tspan></text>
<text id="ix4" x="365.34" y="274.8" letter-spacing="0.5"><tspan dy="-0.5">–</tspan><tspan dx="3.9" dy="0.5">0.2</tspan></text>
<text id="ix5" x="438.00" y="274.8" text-anchor="middle">0.0</text>
<text id="ix6" x="484.76" y="274.8" text-anchor="middle">0.2</text>
<text id="ix7" x="531.52" y="274.8" text-anchor="middle">0.4</text>
<text id="iy0" x="190.6" y="240.00" text-anchor="end" letter-spacing="0.3">0</text>
<text id="iy1" x="190.6" y="206.88" text-anchor="end" letter-spacing="0.3">100</text>
<text id="iy2" x="190.6" y="173.76" text-anchor="end" letter-spacing="0.3">200</text>
<text id="iy3" x="190.6" y="140.64" text-anchor="end" letter-spacing="0.3">300</text>
<text id="iy4" x="190.6" y="107.52" text-anchor="end" letter-spacing="0.3">400</text>
<text id="iy5" x="190.6" y="74.40" text-anchor="end" letter-spacing="0.3">500</text>
<text id="iy6" x="190.6" y="41.28" text-anchor="end" letter-spacing="0.3">600</text>
<text id="zl" x="480" y="515.2" text-anchor="middle">z</text>
<text id="lg0" x="736.1" y="307.0"><tspan dy="-0.6">–</tspan><tspan dx="4.2" dy="0.6">0.1</tspan></text>
<text id="lg1" x="735" y="358.8" style="font-family:'Liberation Serif',serif;font-size:27px">Λ</text>
<text x="754.6" y="358.8" textLength="16.4" lengthAdjust="spacingAndGlyphs">C</text>
<text x="769.4" y="358.8" textLength="16.8" lengthAdjust="spacingAndGlyphs">D</text>
<text x="786.2" y="358.8" textLength="25.4" lengthAdjust="spacingAndGlyphs">M</text>
<text id="lg2" x="735" y="409.5">0.1</text>
</g>
<line x1="630.1" y1="297.9" x2="718.8" y2="297.9" stroke="#ff0000" stroke-width="3.8" stroke-dasharray="9.5 9.3"/>
<line x1="630.1" y1="348.7" x2="718.8" y2="348.7" stroke="#000" stroke-width="4.0"/>
<line x1="630.1" y1="400.2" x2="718.8" y2="400.2" stroke="#0000ff" stroke-width="4.0"/>
<g id="yl" transform="translate(26.5,279) rotate(-90)" font-size="25">
<text x="0" y="0" font-style="italic">ρ</text>
<text x="14" y="4.5" font-size="17.5">DE</text>
<path d="M40,-7.1 H54.5 M47.25,-14.35 V0.15" stroke="#000" stroke-width="1.6" fill="none"/>
<text x="56.5" y="0" font-style="italic">p</text>
<text x="70" y="4.5" font-size="17.5">DE</text>
<text x="94.5" y="0">[</text>
<text x="101" y="0">z</text>
<text x="114.6" y="0">]</text>
</g>
</svg></body></html>
